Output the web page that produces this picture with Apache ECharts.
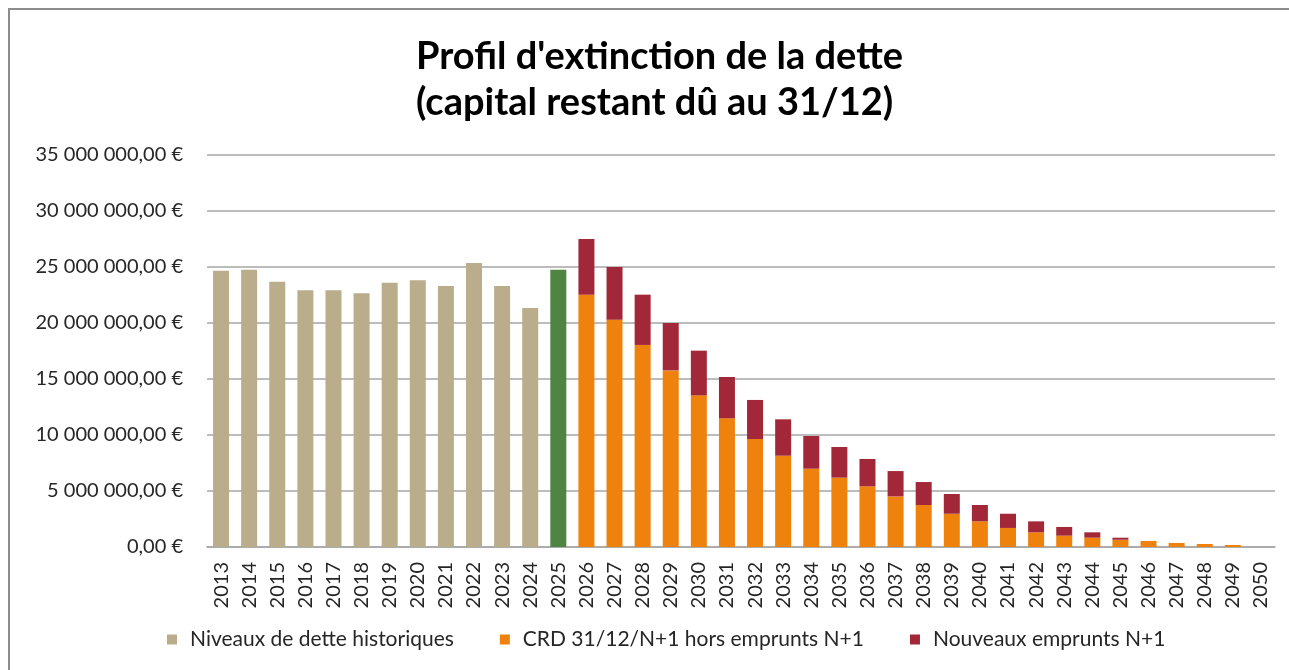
<!DOCTYPE html>
<html>
<head>
<meta charset="utf-8">
<script src="https://cdn.jsdelivr.net/npm/echarts@6/dist/echarts.min.js"></script>
<style>
html,body{margin:0;padding:0;background:#fff;}
#main{width:1289px;height:670px;}
</style>
</head>
<body>
<div id="main"></div>
<script>
// années affichées en abscisse
var years = [];
for (var y = 2013; y <= 2050; y++) { years.push(String(y)); }

// niveaux de dette historiques 2013-2025 (2025 en vert)
var historique = [24670000, 24760000, 23690000, 22920000, 22920000, 22650000, 23600000,
    23810000, 23300000, 25360000, 23300000, 21340000, 24760000];

// CRD 31/12/N+1 hors emprunts N+1, 2026-2050
var crd = [22530000, 20300000, 18040000, 15770000, 13540000, 11490000, 9640000, 8150000,
    6990000, 6190000, 5420000, 4520000, 3750000, 2970000, 2290000, 1700000, 1310000,
    1010000, 830000, 650000, 540000, 360000, 270000, 180000, 0];

// nouveaux emprunts N+1, 2026-2050
var nouveaux = [4970000, 4700000, 4490000, 4230000, 3990000, 3690000, 3490000, 3250000,
    2920000, 2740000, 2440000, 2260000, 2050000, 1760000, 1460000, 1270000, 980000,
    780000, 480000, 180000, 0, 0, 0, 0, 0];

var couleurs = ['#BAAD8C', '#EF820D', '#A22839'];
var vert = '#4E8542';

function euros(v) {
    var s = v.toFixed(2).replace('.', ',');
    var p = s.split(',');
    var ent = p[0].replace(/\B(?=(\d{3})+(?!\d))/g, ' ');
    return ent + ',' + p[1] + ' €';
}

var serieHisto = [];
var serieCrd = [];
var serieNouv = [];
for (var i = 0; i < years.length; i++) {
    if (i < historique.length) {
        if (i == historique.length - 1) {
            serieHisto.push({value: historique[i], itemStyle: {color: vert}});
        } else {
            serieHisto.push(historique[i]);
        }
        serieCrd.push('-');
        serieNouv.push('-');
    } else {
        serieHisto.push('-');
        serieCrd.push(crd[i - historique.length]);
        serieNouv.push(nouveaux[i - historique.length]);
    }
}

var myChart = echarts.init(document.getElementById('main'));
var police = 'Lato';

option = {
    animation: false,
    color: couleurs,
    title: {
        text: "Profil d'extinction de la dette\n(capital restant dû au 31/12)",
        left: 411,
        top: 29,
        textAlign: 'left',
        textStyle: {
            fontFamily: police,
            fontWeight: 'bold',
            fontSize: 38,
            lineHeight: 46,
            color: '#000',
            align: 'center'
        }
    },
    graphic: [{
        type: 'rect',
        shape: {x: 9, y: 9, width: 1300, height: 700},
        style: {fill: 'none', stroke: '#8c8c8c', lineWidth: 2},
        silent: true
    }],
    legend: {
        bottom: 15,
        left: 162,
        icon: 'rect',
        itemWidth: 10,
        itemHeight: 10,
        itemGap: 46,
        textStyle: {fontFamily: police, fontSize: 21, color: '#262626', padding: [0, 0, 0, 8]},
        data: ['Niveaux de dette historiques', 'CRD 31/12/N+1 hors emprunts N+1', 'Nouveaux emprunts N+1']
    },
    grid: {
        left: 207,
        right: 14,
        top: 155,
        bottom: 123
    },
    xAxis: {
        type: 'category',
        data: years,
        axisLine: {lineStyle: {color: '#a6a6a6', width: 1.5}},
        axisTick: {show: false},
        axisLabel: {
            interval: 0,
            rotate: 90,
            margin: 15,
            fontFamily: police,
            fontSize: 20,
            color: '#262626'
        }
    },
    yAxis: {
        type: 'value',
        min: 0,
        max: 35000000,
        interval: 5000000,
        axisLine: {show: false},
        axisTick: {show: false},
        splitLine: {lineStyle: {color: '#a6a6a6', width: 1.5}},
        axisLabel: {
            margin: 24,
            fontFamily: police,
            fontSize: 20,
            color: '#262626',
            formatter: euros
        }
    },
    series: [
        {name: 'Niveaux de dette historiques', type: 'bar', stack: 'dette', barWidth: 16, data: serieHisto},
        {name: 'CRD 31/12/N+1 hors emprunts N+1', type: 'bar', stack: 'dette', barWidth: 16, data: serieCrd},
        {name: 'Nouveaux emprunts N+1', type: 'bar', stack: 'dette', barWidth: 16, data: serieNouv}
    ]
};

myChart.setOption(option);
</script>
</body>
</html>
